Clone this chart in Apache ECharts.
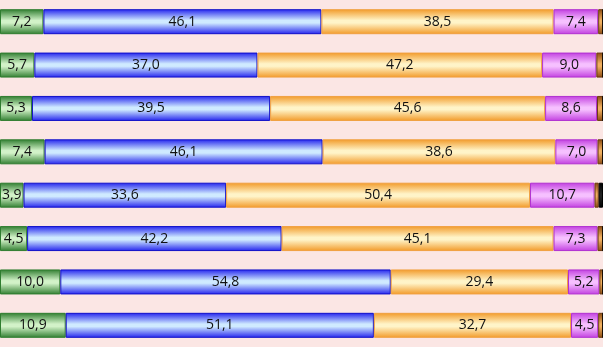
<!DOCTYPE html>
<html>
<head>
<meta charset="utf-8">
<script src="https://cdn.jsdelivr.net/npm/echarts@6/dist/echarts.min.js"></script>
<style>
  html, body { margin: 0; padding: 0; background: #fbe6e4; }
  #chart { width: 603px; height: 347px; }
</style>
</head>
<body>
<div id="chart"></div>
<script>
  // rows top to bottom
  const categories = ['1', '2', '3', '4', '5', '6', '7', '8']
  const greenVals = [7.2, 5.7, 5.3, 7.4, 3.9, 4.5, 10.0, 10.9]
  const blueVals = [46.1, 37.0, 39.5, 46.1, 33.6, 42.2, 54.8, 51.1]
  const orangeVals = [38.5, 47.2, 45.6, 38.6, 50.4, 45.1, 29.4, 32.7]
  const pinkVals = [7.4, 9.0, 8.6, 7.0, 10.7, 7.3, 5.2, 4.5]
  const brownVals = [0.8, 1.1, 1.0, 0.9, 0.7, 0.9, 0.6, 0.8]
  const blackVals = [0, 0, 0, 0, 0.7, 0, 0, 0]

  // vertical gradient: dark edge, light middle
  const grad = (edge, mid) => new echarts.graphic.LinearGradient(0, 0, 0, 1, [
    { offset: 0, color: edge },
    { offset: 0.45, color: mid },
    { offset: 0.55, color: mid },
    { offset: 1, color: edge }
  ])

  const fmt = (p) => p.value.toFixed(1).replace('.', ',')

  const mkSeries = (name, data, edge, mid, border, showLabel) => ({
    name: name,
    type: 'bar',
    stack: 'all',
    barWidth: 25,
    data: data,
    itemStyle: {
      color: grad(edge, mid),
      borderColor: border,
      borderWidth: 1
    },
    label: {
      show: showLabel,
      position: 'inside',
      formatter: fmt,
      color: '#111',
      fontSize: 14,
      fontFamily: 'Open Sans'
    }
  })

  const chart = echarts.init(document.getElementById('chart'))
  chart.setOption({
    backgroundColor: '#fbe6e4',
    animation: false,
    grid: { left: 0, right: 0, top: 0, bottom: 0 },
    xAxis: {
      type: 'value',
      min: 0,
      max: 100,
      show: false
    },
    yAxis: {
      type: 'category',
      data: categories,
      inverse: true,
      show: false
    },
    series: [
      mkSeries('g', greenVals, '#2f7d2f', '#d2f2c8', '#2f7d2f', true),
      mkSeries('b', blueVals, '#2323ee', '#cfeaff', '#1010c8', true),
      mkSeries('o', orangeVals, '#f29a28', '#fff4c8', '#f0a040', true),
      mkSeries('p', pinkVals, '#c23fe0', '#f6c0ff', '#b030d0', true),
      mkSeries('br', brownVals, '#8a4a10', '#f0b060', '#6a3a10', false),
      mkSeries('k', blackVals, '#000', '#222', '#000', false)
    ]
  })
</script>
</body>
</html>
